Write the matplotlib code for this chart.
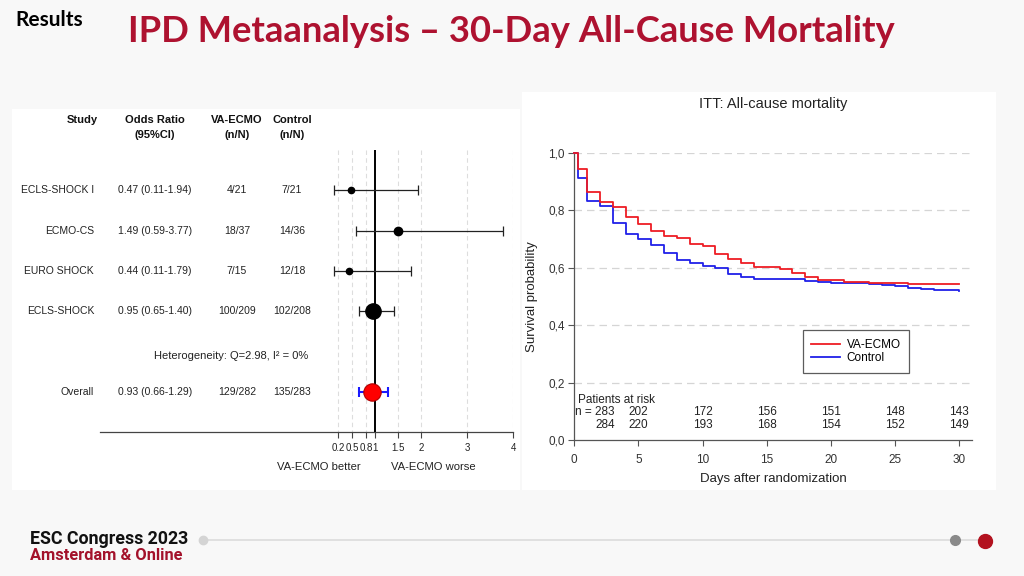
import numpy as np
import matplotlib
matplotlib.use("Agg")
import matplotlib.pyplot as plt
import matplotlib.transforms as mtransforms
from matplotlib.patches import Rectangle
from matplotlib.lines import Line2D

# ── DATA ──────────────────────────────────────────────────────────────────────

STUDIES = ["ECLS-SHOCK I", "ECMO-CS", "EURO SHOCK", "ECLS-SHOCK"]
ODDS = [0.47, 1.49, 0.44, 0.95]
CI_LO = [0.11, 0.59, 0.11, 0.65]
CI_HI = [1.94, 3.77, 1.79, 1.40]
ECMO_EVENTS = ["4/21", "18/37", "7/15", "100/209"]
CTRL_EVENTS = ["7/21", "14/36", "12/18", "102/208"]

OVERALL_OR = 0.93
OVERALL_LO = 0.66
OVERALL_HI = 1.29
OVERALL_ECMO = "129/282"
OVERALL_CTRL = "135/283"
HETEROGENEITY = "Heterogeneity: Q=2.98, I² = 0%"

OR_TICKS = [0.2, 0.5, 0.8, 1, 1.5, 2, 3, 4]
OR_TICK_LABELS = ["0.2", "0.5", "0.8", "1", "1.5", "2", "3", "4"]

# Kaplan-Meier steps (day, survival)
ECMO_T = [0, 0.25, 1, 2, 3, 4, 5, 6, 7, 8, 9, 10, 11, 12, 13, 14,
          16, 17, 18, 19, 21, 23, 25, 26, 30]
ECMO_S = [1.0, 0.942, 0.865, 0.830, 0.812, 0.776, 0.752, 0.727, 0.710, 0.702,
          0.681, 0.676, 0.647, 0.631, 0.617, 0.604, 0.595, 0.580, 0.568, 0.556,
          0.551, 0.548, 0.546, 0.542, 0.542]
CTRL_T = [0, 0.25, 1, 2, 3, 4, 5, 6, 7, 8, 9, 10, 11, 12, 13, 14,
          18, 19, 20, 23, 24, 25, 26, 27, 28, 30]
CTRL_S = [1.0, 0.911, 0.833, 0.815, 0.755, 0.716, 0.699, 0.678, 0.651, 0.626,
          0.615, 0.607, 0.600, 0.577, 0.569, 0.561, 0.555, 0.550, 0.548, 0.544,
          0.541, 0.535, 0.530, 0.527, 0.522, 0.520]

RISK_DAYS = [5, 10, 15, 20, 25, 30]
RISK_ECMO = [283, 202, 172, 156, 151, 148, 143]
RISK_CTRL = [284, 220, 193, 168, 154, 152, 149]

# ── STYLE ─────────────────────────────────────────────────────────────────────

W, H = 1024, 576
SLIDE_RED = "#ae1230"
ARIAL = ["Liberation Sans", "DejaVu Sans"]
MARKER_PT = [4.5, 6.0, 4.5, 11.0]

def fx(px):
    return px / W

def fy(py):
    return 1 - py / H

fig = plt.figure(figsize=(W / 100, H / 100), dpi=100, facecolor="#f8f8f8")

# slide decoration layer, in pixel units
bg = fig.add_axes([0, 0, 1, 1])
bg.set_xlim(0, W); bg.set_ylim(H, 0); bg.axis("off")
bg.add_patch(Rectangle((12, 109), 508, 381, facecolor="white", edgecolor="none"))
bg.add_patch(Rectangle((522, 92), 474, 398, facecolor="white", edgecolor="none"))

fig.text(fx(15), fy(20), "Results", fontsize=15, fontweight="bold",
         family=["Lato", "DejaVu Sans"], va="center", ha="left")
fig.text(fx(128), fy(31), "IPD Metaanalysis – 30-Day All-Cause Mortality",
         fontsize=26.2, fontweight="bold", color=SLIDE_RED,
         family=["Lato", "DejaVu Sans"], va="center", ha="left")

# footer
bg.plot([203, 985], [540, 540], color="#dcdcdc", lw=1.2, solid_capstyle="round")
bg.plot([203], [540], "o", ms=6, color="#d4d4d4")
bg.plot([955], [540], "o", ms=7, color="#8a8a8a")
bg.plot([985], [541], "o", ms=10, color="#b3121f")
fig.text(fx(30), fy(539), "ESC Congress 2023", fontsize=12.8, fontweight="bold",
         family=["Roboto", "DejaVu Sans"], va="center", ha="left", color="#111111")
fig.text(fx(30), fy(555), "Amsterdam & Online", fontsize=11.8, fontweight="bold",
         family=["Roboto", "DejaVu Sans"], va="center", ha="left", color="#a3122b")

# ── FOREST PLOT ───────────────────────────────────────────────────────────────

ax = fig.add_axes([fx(100), fy(432), (513.3 - 100) / W, (432 - 150) / H])
ax.patch.set_alpha(0)
ax.set_xlim(-4.97, 4.0)
ax.set_ylim(6, -1)
for s in ["top", "right", "left"]:
    ax.spines[s].set_visible(False)
ax.spines["bottom"].set_color("#444444")
ax.spines["bottom"].set_linewidth(0.9)
ax.set_yticks([])
ax.set_xticks(OR_TICKS)
ax.set_xticklabels(OR_TICK_LABELS, family=ARIAL, fontsize=7, color="#222222")
ax.tick_params(axis="x", length=4, width=0.8, color="#444444", pad=4)

grid_ticks = [t for t in OR_TICKS if t != 1]
ax.vlines(grid_ticks, -1, 6, colors="#dddddd", linestyles=(0, (4, 3)), lw=0.8)
ax.vlines([1], -1, 6, colors="black", lw=1.4, zorder=3)

rows = np.arange(len(STUDIES))
het_y = 4.12
overall_y = 5.0
for i, y in enumerate(rows):
    ax.errorbar(ODDS[i], y, xerr=[[ODDS[i] - CI_LO[i]], [CI_HI[i] - ODDS[i]]],
                fmt="none", ecolor="#222222", elinewidth=0.9, capsize=3.3,
                capthick=0.9, zorder=4)
    ax.plot(ODDS[i], y, "o", ms=MARKER_PT[i], color="black", zorder=5)

ax.errorbar(OVERALL_OR, overall_y,
            xerr=[[OVERALL_OR - OVERALL_LO], [OVERALL_HI - OVERALL_OR]],
            fmt="none", ecolor="#1a1aff", elinewidth=1.5, capsize=3.6,
            capthick=1.5, zorder=4)
ax.plot(OVERALL_OR, overall_y, "o", ms=12.5, color="#ff0000",
        markeredgecolor="#b00000", markeredgewidth=0.8, zorder=6)

trans = mtransforms.blended_transform_factory(fig.transFigure, ax.transData)
hdr = dict(transform=trans, family=ARIAL, fontsize=8, fontweight="bold",
           va="center", color="#111111")
ax.text(fx(98), -1.754, "Study", ha="right", **hdr)
ax.text(fx(155), -1.754, "Odds Ratio", ha="center", **hdr)
ax.text(fx(155), -1.382, "(95%CI)", ha="center", **hdr)
ax.text(fx(237), -1.754, "VA-ECMO", ha="center", **hdr)
ax.text(fx(237), -1.382, "(n/N)", ha="center", **hdr)
ax.text(fx(292), -1.754, "Control", ha="center", **hdr)
ax.text(fx(292), -1.382, "(n/N)", ha="center", **hdr)

cell = dict(transform=trans, family=ARIAL, fontsize=7.5, va="center",
            color="#222222")
for i, y in enumerate(rows):
    ax.text(fx(94), y, STUDIES[i], ha="right", **cell)
    ax.text(fx(155), y, f"{ODDS[i]:.2f} ({CI_LO[i]:.2f}-{CI_HI[i]:.2f})",
            ha="center", **cell)
    ax.text(fx(237), y, ECMO_EVENTS[i], ha="center", **cell)
    ax.text(fx(292), y, CTRL_EVENTS[i], ha="center", **cell)
ax.text(fx(231), het_y, HETEROGENEITY, ha="center", transform=trans,
        family=ARIAL, fontsize=8, va="center", color="#222222")
ax.text(fx(94), overall_y, "Overall", ha="right", **cell)
ax.text(fx(155), overall_y, f"{OVERALL_OR:.2f} ({OVERALL_LO:.2f}-{OVERALL_HI:.2f})",
        ha="center", **cell)
ax.text(fx(237), overall_y, OVERALL_ECMO, ha="center", **cell)
ax.text(fx(292), overall_y, OVERALL_CTRL, ha="center", **cell)

xt = ax.get_xaxis_transform()
ax.text(0.68, -0.123, "VA-ECMO better", transform=xt, ha="right", va="center",
        family=ARIAL, fontsize=8.1, color="#222222")
ax.text(1.34, -0.123, "VA-ECMO worse", transform=xt, ha="left", va="center",
        family=ARIAL, fontsize=8.1, color="#222222")

# ── KAPLAN-MEIER ──────────────────────────────────────────────────────────────

km = fig.add_axes([fx(574.3), fy(440.2), (972 - 574.3) / W, (440.2 - 152.7) / H])
km.patch.set_alpha(0)
km.set_xlim(0, 31)
km.set_ylim(0, 1)
km.spines["top"].set_visible(False)
km.spines["right"].set_visible(False)
for s in ["left", "bottom"]:
    km.spines[s].set_color("#555555")
    km.spines[s].set_linewidth(0.9)

yt = [0, 0.2, 0.4, 0.6, 0.8, 1.0]
km.set_yticks(yt)
km.set_yticklabels([f"{v:.1f}".replace(".", ",") for v in yt],
                   family=ARIAL, fontsize=8.5, color="#333333")
km.set_xticks([0, 5, 10, 15, 20, 25, 30])
km.set_xticklabels(["0", "5", "10", "15", "20", "25", "30"],
                   family=ARIAL, fontsize=8.5, color="#333333")
km.tick_params(length=4, width=0.8, color="#555555", pad=3)
km.tick_params(axis="x", pad=6)
km.hlines(yt[1:], 0, 31, colors="#d5d5d5", linestyles=(0, (6, 4)), lw=0.9,
          zorder=1)

km.step(CTRL_T, CTRL_S, where="post", color="#2020e8", lw=1.3, clip_on=False,
        zorder=3)
km.step(ECMO_T, ECMO_S, where="post", color="#ee1c24", lw=1.3, clip_on=False,
        zorder=4)

handles = [Line2D([], [], color="#ee1c24", lw=1.3),
           Line2D([], [], color="#2020e8", lw=1.3)]
leg = km.legend(handles, ["VA-ECMO", "Control"], loc="upper left",
                bbox_to_anchor=(0.575, 0.382), fancybox=False, frameon=True,
                prop={"family": ARIAL, "size": 8.5}, handlelength=2.4,
                borderpad=0.7, labelspacing=0.15, handletextpad=0.6,
                borderaxespad=0)
leg.get_frame().set_edgecolor("#333333")
leg.get_frame().set_linewidth(0.9)

risk = dict(family=ARIAL, fontsize=8.5, color="#222222", va="center")
km.text(0.3, 0.14, "Patients at risk", ha="left", **risk)
km.text(3.15, 0.097, f"n = {RISK_ECMO[0]}", ha="right", **risk)
km.text(3.15, 0.054, f"{RISK_CTRL[0]}", ha="right", **risk)
for d, a, b in zip(RISK_DAYS, RISK_ECMO[1:], RISK_CTRL[1:]):
    km.text(d, 0.097, str(a), ha="center", **risk)
    km.text(d, 0.054, str(b), ha="center", **risk)

km.text(0.5, 1.169, "ITT: All-cause mortality", transform=km.transAxes,
        ha="center", va="center", family=ARIAL, fontsize=10.5, color="#222222")
km.text(0.5, -0.135, "Days after randomization", transform=km.transAxes,
        ha="center", va="center", family=ARIAL, fontsize=9.5, color="#222222")
km.text(-0.106, 0.5, "Survival probability", transform=km.transAxes,
        rotation=90, ha="center", va="center", family=ARIAL, fontsize=9.5,
        color="#222222")

fig.savefig("out.png", dpi=100, facecolor=fig.get_facecolor())
